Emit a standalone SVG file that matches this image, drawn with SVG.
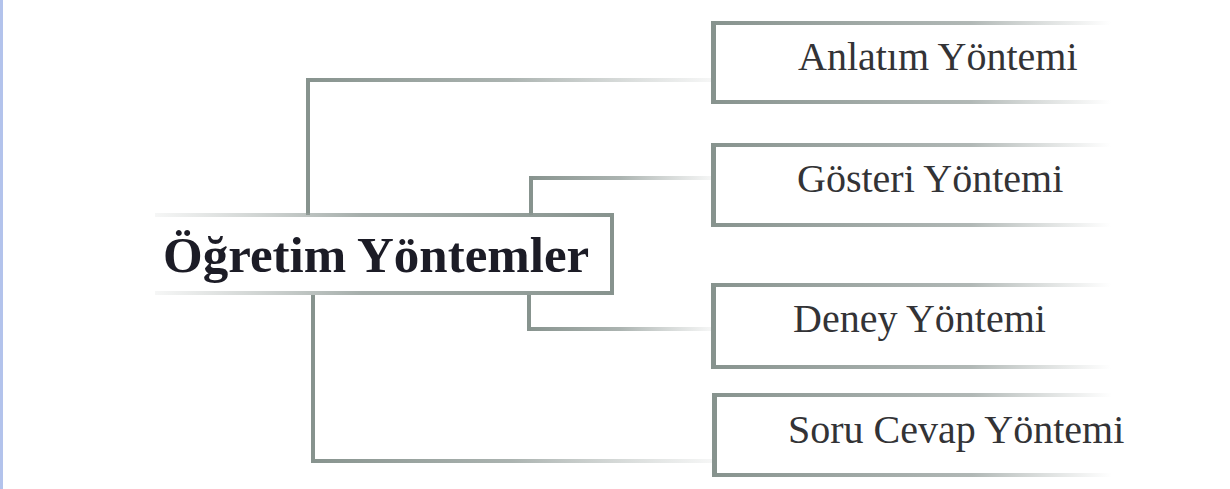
<svg xmlns="http://www.w3.org/2000/svg" width="1230" height="489" viewBox="0 0 1230 489">
<defs>
<linearGradient id="fadeR" x1="0" y1="0" x2="1" y2="0">
<stop offset="0" stop-color="#87938e" stop-opacity="1"/>
<stop offset="0.5" stop-color="#8f9a96" stop-opacity="0.75"/>
<stop offset="1" stop-color="#a0a8a5" stop-opacity="0.1"/>
</linearGradient>
<linearGradient id="boxR" x1="0" y1="0" x2="1" y2="0">
<stop offset="0" stop-color="#87938e" stop-opacity="1"/>
<stop offset="0.65" stop-color="#909a97" stop-opacity="0.7"/>
<stop offset="1" stop-color="#a0a8a5" stop-opacity="0"/>
</linearGradient>
<linearGradient id="fadeL" x1="0" y1="0" x2="1" y2="0">
<stop offset="0" stop-color="#a0a8a5" stop-opacity="0.1"/>
<stop offset="0.45" stop-color="#8f9a96" stop-opacity="0.8"/>
<stop offset="1" stop-color="#87938e" stop-opacity="1"/>
</linearGradient>
</defs>
<style>
.solid{fill:#87938e}
.lbl{font-family:"Liberation Serif","Times New Roman",serif;font-size:40px;fill:#333336}
.main{font-family:"Liberation Serif","Times New Roman",serif;font-size:51px;font-weight:bold;fill:#1c1c26}
</style>
<rect x="0" y="0" width="1230" height="489" fill="#ffffff"/>
<rect x="0" y="0" width="3" height="489" fill="#b3c3ec"/>
<g id="connectors">
<rect class="solid" x="306" y="78" width="4" height="137"/>
<rect x="306" y="78" width="406" height="4" fill="url(#fadeR)"/>
<rect class="solid" x="529" y="176" width="4" height="39"/>
<rect x="529" y="176" width="183" height="4" fill="url(#fadeR)"/>
<rect class="solid" x="527" y="295" width="4" height="36"/>
<rect x="527" y="327" width="185" height="4" fill="url(#fadeR)"/>
<rect class="solid" x="311" y="295" width="4" height="168"/>
<rect x="311" y="459" width="401" height="4" fill="url(#fadeR)"/>
</g>
<g id="node-main">
<rect x="155" y="213" width="459" height="4" fill="url(#fadeL)"/>
<rect x="155" y="291" width="459" height="4" fill="url(#fadeL)"/>
<rect class="solid" x="610" y="213" width="4" height="82"/>
<text class="main" x="163" y="272">Öğretim Yöntemler</text>
</g>
<g id="node-anlatim">
<rect class="solid" x="711" y="21" width="5" height="83"/>
<rect x="711" y="21" width="400" height="4" fill="url(#boxR)"/>
<rect x="711" y="100" width="400" height="4" fill="url(#boxR)"/>
<text class="lbl" x="798" y="70">Anlatım Yöntemi</text>
</g>
<g id="node-gosteri">
<rect class="solid" x="711" y="143" width="5" height="84"/>
<rect x="711" y="143" width="400" height="4" fill="url(#boxR)"/>
<rect x="711" y="223" width="400" height="4" fill="url(#boxR)"/>
<text class="lbl" x="797" y="192">Gösteri Yöntemi</text>
</g>
<g id="node-deney">
<rect class="solid" x="711" y="283" width="5" height="86"/>
<rect x="711" y="283" width="400" height="4" fill="url(#boxR)"/>
<rect x="711" y="365" width="400" height="4" fill="url(#boxR)"/>
<text class="lbl" x="793" y="332">Deney Yöntemi</text>
</g>
<g id="node-soru">
<rect class="solid" x="712" y="393" width="5" height="84"/>
<rect x="712" y="393" width="400" height="4" fill="url(#boxR)"/>
<rect x="712" y="473" width="400" height="4" fill="url(#boxR)"/>
<text class="lbl" x="788" y="443">Soru Cevap Yöntemi</text>
</g>
</svg>
